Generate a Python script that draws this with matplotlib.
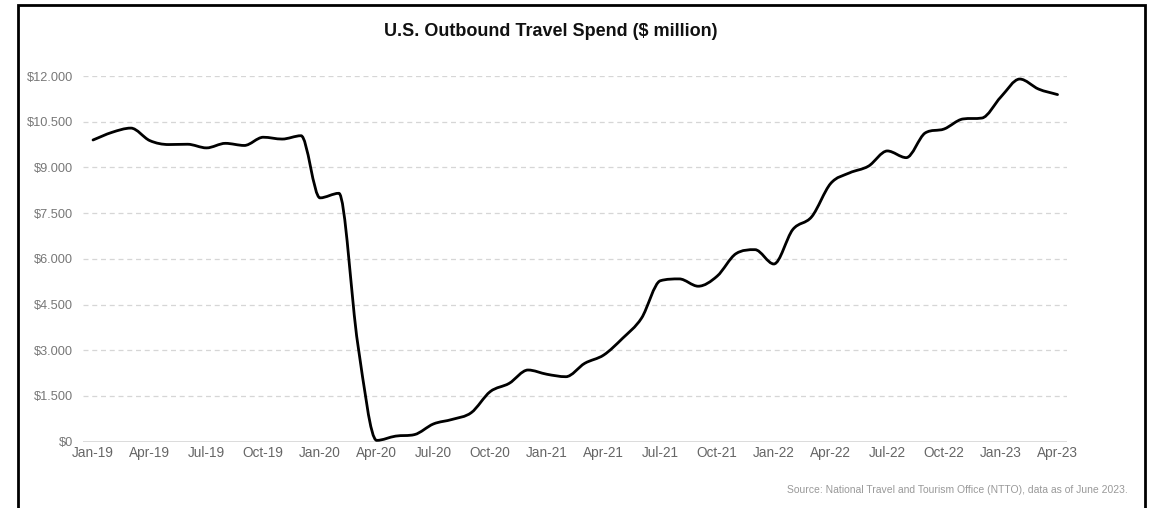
import matplotlib.pyplot as plt
from matplotlib.patches import Rectangle, PathPatch
from matplotlib.path import Path

# monthly outbound travel spend, $ million, Jan-19 .. Apr-23
spend = [
    9900, 10150, 10290, 9880, 9750, 9760, 9640, 9790, 9720, 9990, 9930, 10040,  # 2019
    8000, 8150, 3200, 40, 180, 230, 580, 730, 950, 1640, 1910, 2350,             # 2020
    2210, 2130, 2570, 2840, 3390, 4050, 5280, 5340, 5100, 5430, 6170, 6300,      # 2021
    5830, 6960, 7380, 8470, 8820, 9040, 9540, 9320, 10130, 10260, 10590, 10620,  # 2022
    11310, 11900, 11570, 11390,                                                  # 2023
]
months = list(range(len(spend)))

quarter_labels = [
    "Jan-19", "Apr-19", "Jul-19", "Oct-19", "Jan-20", "Apr-20", "Jul-20", "Oct-20",
    "Jan-21", "Apr-21", "Jul-21", "Oct-21", "Jan-22", "Apr-22", "Jul-22", "Oct-22",
    "Jan-23", "Apr-23",
]
quarter_pos = list(range(0, 52, 3))

y_ticks = [0, 1500, 3000, 4500, 6000, 7500, 9000, 10500, 12000]
y_labels = ["$0", "$1.500", "$3.000", "$4.500", "$6.000", "$7.500", "$9.000", "$10.500", "$12.000"]

plt.rcParams["font.family"] = ["Liberation Sans", "DejaVu Sans"]

W, H = 1152, 508
fig = plt.figure(figsize=(W / 100, H / 100), dpi=100)
ax = fig.add_axes([83 / W, 1 - 441.6 / H, (1067 - 83) / W, (441.6 - 76) / H])


def smooth_path(xs, ys):
    # cubic bezier through every point, monotone tangents so peaks don't overshoot
    n = len(ys)
    d = [(ys[i + 1] - ys[i]) / (xs[i + 1] - xs[i]) for i in range(n - 1)]
    m = [d[0]] + [(d[i - 1] + d[i]) / 2 for i in range(1, n - 1)] + [d[-1]]
    for i in range(1, n - 1):
        if d[i - 1] * d[i] <= 0:
            m[i] = 0.0
        else:
            lim = 3 * min(abs(d[i - 1]), abs(d[i]))
            if abs(m[i]) > lim:
                m[i] = lim if m[i] > 0 else -lim
    verts = [(xs[0], ys[0])]
    codes = [Path.MOVETO]
    for i in range(n - 1):
        h = xs[i + 1] - xs[i]
        verts += [(xs[i] + h / 3, ys[i] + m[i] * h / 3),
                  (xs[i + 1] - h / 3, ys[i + 1] - m[i + 1] * h / 3),
                  (xs[i + 1], ys[i + 1])]
        codes += [Path.CURVE4] * 3
    return Path(verts, codes)


ax.add_patch(PathPatch(smooth_path(months, spend), fill=False, edgecolor="black",
                       lw=2.0, joinstyle="round", capstyle="round",
                       transform=ax.transData, clip_on=False, zorder=3))

ax.set_xlim(-0.53, 51.5)
ax.set_ylim(0, 12000)

ax.set_yticks(y_ticks)
ax.set_yticklabels(y_labels, color="#777777", fontsize=9.2)
ax.set_xticks(quarter_pos)
ax.set_xticklabels(quarter_labels, color="#666666", fontsize=9.8)
ax.tick_params(axis="both", length=0)
ax.tick_params(axis="y", pad=7)
ax.tick_params(axis="x", pad=3)

for v in y_ticks[1:]:
    ax.axhline(v, color="#d6d6d6", lw=0.9, ls=(0, (4, 3)), zorder=1)
ax.axhline(0, color="#d6d6d6", lw=1.2, zorder=1)

for s in ax.spines.values():
    s.set_visible(False)

fig.text(551 / W, 1 - 32 / H, "U.S. Outbound Travel Spend ($ million)",
         ha="center", va="center", fontsize=13, fontweight="bold", color="#111111")
fig.text(1128 / W, 1 - 490 / H,
         "Source: National Travel and Tourism Office (NTTO), data as of June 2023.",
         ha="right", va="center", fontsize=7.5, color="#999999")

# outer frame, open at the bottom edge
fig.patches.append(Rectangle((18 / W, -0.05), (1145 - 18) / W, 1.05 - 5 / H,
                             transform=fig.transFigure, fill=False,
                             edgecolor="black", lw=2.0))

fig.savefig("out.png", dpi=100)
